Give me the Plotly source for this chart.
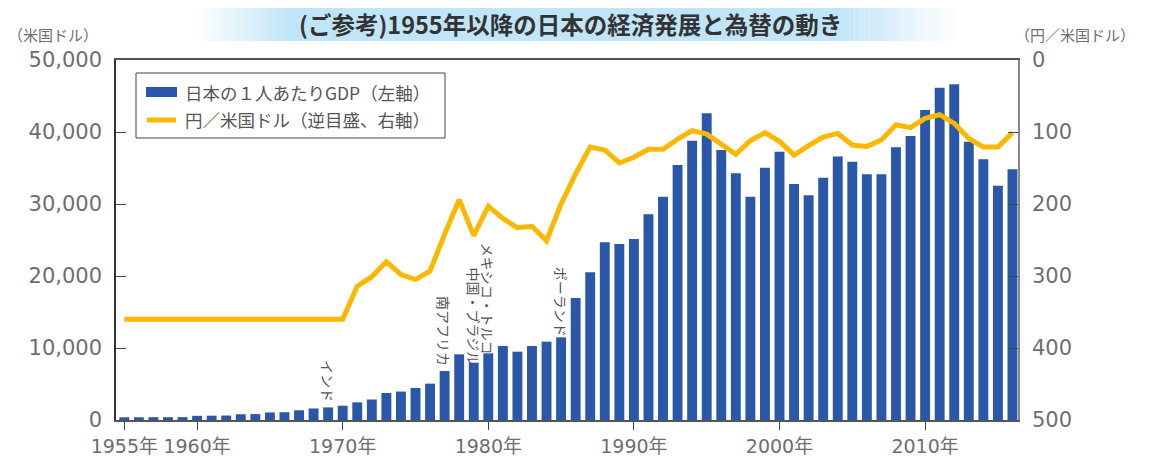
"""
日本の1人あたりGDPと円／米国ドル（1955年以降）
"""

import plotly.graph_objects as go

# データ
years = list(range(1955, 2017))

gdp_per_capita = [
    380, 380, 390, 390, 400,                                 # 1955-1959
    580, 600, 620, 800, 820, 1050, 1080, 1350, 1600, 1750,   # 1960-1969
    1980, 2450, 2850, 3750, 3950, 4450, 5050, 6800, 9120, 7960,        # 1970-1979
    9260, 10280, 9490, 10280, 10880, 11480, 16940, 20510, 24700, 24450,  # 1980-1989
    25140, 28570, 31020, 35420, 38800, 42600, 37500, 34260, 31020, 35050,  # 1990-1999
    37270, 32780, 31210, 33660, 36580, 35880, 34120, 34120, 37870, 39440,  # 2000-2009
    43060, 46160, 46620, 38660, 36200, 32550, 34810,                     # 2010-2016
]

yen_per_usd = [
    360, 360, 360, 360, 360,
    360, 360, 360, 360, 360, 360, 360, 360, 360, 360,
    360, 314, 301, 280, 298, 305, 293, 242, 194, 244,
    203, 220, 233, 231, 251, 200, 158, 121, 125, 143,
    135, 124, 124, 110, 98, 103, 116, 131, 112, 101,
    113, 132, 119, 107, 102, 118, 120, 111, 90, 94,
    81, 76, 88, 109, 121, 121, 101,
]

x_tick_years = [1955, 1960, 1970, 1980, 1990, 2000, 2010]
x_tick_text = ["1955年", "1960年", "1970年", "1980年", "1990年", "2000年", "2010年"]
gdp_ticks = [0, 10000, 20000, 30000, 40000, 50000]
yen_ticks = [0, 100, 200, 300, 400, 500]

# 国名の注記（年, 位置）
country_labels = ["インド", "南アフリカ", "中国・ブラジル", "メキシコ・トルコ", "ポーランド"]
country_years = [1969, 1977, 1979, 1980, 1985]
country_label_y = [5400, 12400, 14400, 16800, 16400]

COLOR_BAR = "#2a57a7"
COLOR_LINE = "#fbb800"
COLOR_TEXT = "#6e6e6e"
FONT_JP = "Noto Sans CJK JP"
FONT_NUM = "DejaVu Sans, Noto Sans CJK JP"

# ページの body 余白 (8px) を差し引いて配置
OFF = 8
L, R, T, B = 116, 1018, 60, 420


def px(x):
    return (x - L) / (R - L)


def py(y):
    return (B - y) / (B - T)


fig = go.Figure()

fig.add_trace(go.Bar(
    x=years,
    y=gdp_per_capita,
    marker_color=COLOR_BAR,
    marker_line_width=0,
    width=0.68,
    name="日本の1人あたりGDP（左軸）",
    showlegend=False,
))

fig.add_trace(go.Scatter(
    x=years,
    y=yen_per_usd,
    yaxis="y2",
    mode="lines",
    line=dict(color=COLOR_LINE, width=5),
    name="円／米国ドル（逆目盛、右軸）",
    showlegend=False,
))

shapes = []

# タイトル帯（グラデーション風）
band_color = (192, 229, 248)
x0, x_solid0, x_solid1, x1 = 193, 290, 840, 957
steps = 24
for i in range(steps):
    a = (i + 0.5) / steps
    xa = x0 + (x_solid0 - x0) * i / steps
    xb = x0 + (x_solid0 - x0) * (i + 1) / steps
    shapes.append(dict(type="rect", xref="paper", yref="paper",
                       x0=px(xa), x1=px(xb), y0=py(41), y1=py(0),
                       fillcolor=f"rgba{band_color + (a,)}", line_width=0, layer="below"))
shapes.append(dict(type="rect", xref="paper", yref="paper",
                   x0=px(x_solid0), x1=px(x_solid1), y0=py(41), y1=py(0),
                   fillcolor=f"rgb{band_color}", line_width=0, layer="below"))
for i in range(steps):
    a = 1 - (i + 0.5) / steps
    xa = x_solid1 + (x1 - x_solid1) * i / steps
    xb = x_solid1 + (x1 - x_solid1) * (i + 1) / steps
    shapes.append(dict(type="rect", xref="paper", yref="paper",
                       x0=px(xa), x1=px(xb), y0=py(41), y1=py(0),
                       fillcolor=f"rgba{band_color + (a,)}", line_width=0, layer="below"))

# 凡例（手描き）
shapes.append(dict(type="rect", xref="paper", yref="paper",
                   x0=px(136), x1=px(445), y0=py(138), y1=py(73),
                   line=dict(color="#444", width=1), fillcolor="white"))
shapes.append(dict(type="rect", xref="paper", yref="paper",
                   x0=px(146), x1=px(177), y0=py(97), y1=py(87),
                   line_width=0, fillcolor=COLOR_BAR))
shapes.append(dict(type="line", xref="paper", yref="paper",
                   x0=px(147), x1=px(176), y0=py(120), y1=py(120),
                   line=dict(color=COLOR_LINE, width=5)))

annotations = [
    dict(text="<b>(ご参考)1955年以降の日本の経済発展と為替の動き</b>",
         xref="paper", yref="paper", x=px(570), y=py(24),
         xanchor="center", yanchor="middle", showarrow=False,
         font=dict(family=FONT_JP, size=23.5, color="#333")),
    dict(text="（米国ドル）", xref="paper", yref="paper", x=px(6), y=py(34),
         xanchor="left", yanchor="middle", showarrow=False,
         font=dict(family=FONT_JP, size=15, color=COLOR_TEXT)),
    dict(text="（円／米国ドル）", xref="paper", yref="paper", x=px(1013), y=py(34),
         xanchor="left", yanchor="middle", showarrow=False,
         font=dict(family=FONT_JP, size=15, color=COLOR_TEXT)),
    dict(text="日本の１人あたりGDP（左軸）", xref="paper", yref="paper", x=px(183), y=py(92),
         xanchor="left", yanchor="middle", showarrow=False,
         font=dict(family=FONT_JP, size=17.5, color="#555")),
    dict(text="円／米国ドル（逆目盛、右軸）", xref="paper", yref="paper", x=px(183), y=py(120),
         xanchor="left", yanchor="middle", showarrow=False,
         font=dict(family=FONT_JP, size=17.5, color="#555")),
]

for name, yr, yv in zip(country_labels, country_years, country_label_y):
    annotations.append(dict(
        text=name, x=yr, y=yv, xref="x", yref="y",
        textangle=90, showarrow=False,
        xanchor="center", yanchor="middle",
        font=dict(family=FONT_JP, size=14, color="#555"),
    ))

fig.update_layout(
    width=1149 - OFF,
    height=457 - OFF,
    margin=dict(l=L - OFF, r=1149 - R, t=T - OFF, b=457 - B),
    plot_bgcolor="white",
    paper_bgcolor="white",
    bargap=0.3,
    showlegend=False,
    shapes=shapes,
    annotations=annotations,
    xaxis=dict(
        range=[1954.43, 2016.38],
        tickvals=x_tick_years,
        ticktext=x_tick_text,
        ticks="outside",
        ticklen=8,
        tickcolor="#444",
        showgrid=False,
        zeroline=False,
        showline=True,
        linecolor="#555",
        linewidth=1.5,
        mirror=True,
        automargin=False,
        tickfont=dict(family=FONT_NUM, size=19, color=COLOR_TEXT),
    ),
    yaxis=dict(
        range=[0, 50000],
        tickvals=gdp_ticks,
        tickformat=",d",
        ticks="inside",
        ticklen=10,
        tickcolor="#444",
        showgrid=False,
        zeroline=False,
        showline=True,
        linecolor="#333",
        linewidth=1.5,
        automargin=False,
        ticklabelstandoff=8,
        tickfont=dict(family=FONT_NUM, size=21, color=COLOR_TEXT),
    ),
    yaxis2=dict(
        range=[500, 0],
        overlaying="y",
        side="right",
        tickvals=yen_ticks,
        ticks="inside",
        ticklen=10,
        tickcolor="#444",
        showgrid=False,
        zeroline=False,
        showline=True,
        linecolor="#888",
        linewidth=1.5,
        automargin=False,
        ticklabelstandoff=8,
        tickfont=dict(family=FONT_NUM, size=21, color=COLOR_TEXT),
    ),
)

fig.write_html("out.html")
